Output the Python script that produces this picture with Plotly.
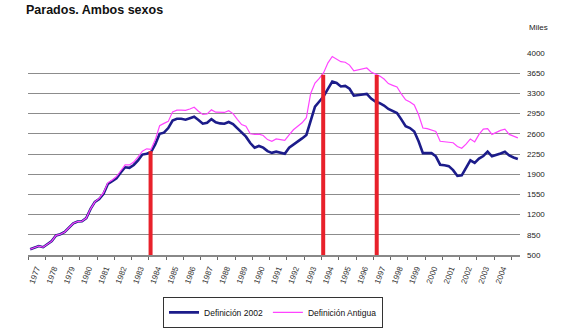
import plotly.graph_objects as go

# Quarterly series, 114 quarters starting 1977 (thousands of people)
start_year = 1977
def2002 = [600, 630, 655, 635, 690, 740, 840, 860, 900, 970, 1050, 1080, 1085, 1140, 1300, 1420,
           1470, 1560, 1730, 1780, 1830, 1930, 2020, 2010, 2060, 2140, 2240, 2255, 2280, 2420,
           2600, 2620, 2700, 2830, 2860, 2860, 2845, 2870, 2895, 2840, 2775, 2790, 2855, 2800,
           2780, 2775, 2805, 2770, 2700, 2613, 2550, 2440, 2360, 2390, 2360, 2300, 2270, 2290,
           2270, 2255, 2360, 2410, 2460, 2520, 2580, 2810, 3070, 3160, 3250, 3380, 3505, 3480,
           3420, 3430, 3380, 3260, 3270, 3280, 3290, 3210, 3160, 3130, 3090, 3030, 2990, 2960,
           2850, 2730, 2700, 2640, 2470, 2265, 2265, 2265, 2210, 2065, 2055, 2040, 1970, 1870,
           1880, 2000, 2140, 2095, 2170, 2215, 2290, 2210, 2230, 2260, 2290, 2225, 2190, 2165]
antigua = [600, 630, 655, 635, 690, 740, 840, 860, 900, 970, 1050, 1080, 1085, 1140, 1300, 1420,
           1480, 1580, 1750, 1800, 1860, 1960, 2060, 2060, 2110, 2200, 2300, 2340, 2330, 2500,
           2740, 2780, 2815, 2980, 3010, 3010, 3005, 3030, 3060, 2990, 2935, 2945, 3015, 2975,
           2970, 2970, 3000, 2950, 2850, 2760, 2730, 2600, 2590, 2595, 2570, 2500, 2470, 2510,
           2500, 2485, 2580, 2670, 2730, 2790, 2880, 3300, 3480, 3560, 3660, 3830, 3940, 3900,
           3850, 3840, 3790, 3690, 3710, 3725, 3740, 3670, 3640, 3600, 3550, 3470, 3440, 3410,
           3290, 3190, 3150, 3100, 2930, 2700, 2690, 2670, 2640, 2470, 2460, 2455, 2445, 2380,
           2350, 2420, 2510, 2460, 2590, 2680, 2690, 2590, 2630, 2660, 2680, 2590, 2560, 2530]
year_labels = list(range(1977, 2005))
y_ticks = [500, 850, 1200, 1550, 1900, 2250, 2600, 2950, 3300, 3650, 4000]
break_years = [1984.1, 1994.1, 1997.2]
break_tops = [2300, 3625, 3620]

n = len(def2002)
x = [start_year + (i + 0.5) / 4 for i in range(n)]
x_end = start_year + n / 4

fig = go.Figure()
fig.add_trace(go.Scatter(x=x, y=def2002, mode="lines", name="Definición 2002",
                         line=dict(color="#1c1c8a", width=2.6)))
fig.add_trace(go.Scatter(x=x, y=antigua, mode="lines", name="Definición Antigua",
                         line=dict(color="#ff44ff", width=1.2)))
for bx, bt in zip(break_years, break_tops):
    fig.add_trace(go.Scatter(x=[bx, bx], y=[y_ticks[0], bt], mode="lines", showlegend=False,
                             line=dict(color="#e8212b", width=4), hoverinfo="skip"))

fig.update_layout(
    width=580, height=328,
    margin=dict(l=28, r=60, t=53, b=73, autoexpand=False),
    paper_bgcolor="white", plot_bgcolor="white",
    font=dict(family="Arial", size=8, color="#222"),
    legend=dict(orientation="h", x=0.498, xanchor="center", yref="container", y=0.095,
                yanchor="top",
                bordercolor="#333", borderwidth=1, font=dict(size=8.5, color="#111"),
                itemwidth=30, tracegroupgap=0),
    title=dict(text="<b>Parados. Ambos sexos</b>", xref="container", yref="container",
               x=26 / 580, y=0.970, xanchor="left", yanchor="middle",
               font=dict(size=12.5, color="#111", family="Arial")),
    annotations=[
        dict(text="Miles", xref="paper", yref="paper", x=1.014, y=1.124,
             xanchor="left", yanchor="middle", showarrow=False, font=dict(size=8, color="#222")),
    ],
)
fig.update_xaxes(range=[start_year, x_end], tickmode="array", automargin=False,
                 tickvals=[yr + 0.5 for yr in year_labels], ticktext=[str(yr) for yr in year_labels],
                 tickangle=-70, ticks="", showgrid=False, showline=True, linecolor="#888",
                 linewidth=1.5, ticklabelstandoff=4,
                 minor=dict(tickmode="array", tickvals=list(range(1977, 2006)), ticks="outside",
                            ticklen=3, tickcolor="#666", showgrid=False),
                 tickfont=dict(size=8, color="#333"))
fig.update_yaxes(range=[500, 4000], side="right", tickmode="array", tickvals=y_ticks,
                 automargin=False,
                 showgrid=True, gridcolor="#8c8c8c", gridwidth=1, zeroline=False,
                 ticks="", ticklabelstandoff=6, tickfont=dict(size=8, color="#222"))

fig.write_html("out.html")
